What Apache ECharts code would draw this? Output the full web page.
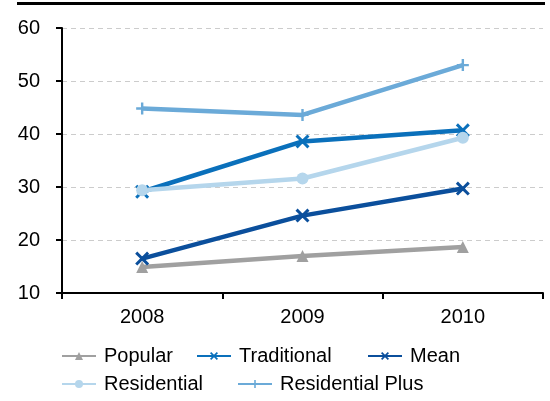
<!DOCTYPE html>
<html>
<head>
<meta charset="utf-8">
<script src="https://cdn.jsdelivr.net/npm/echarts@6/dist/echarts.min.js"></script>
<style>
  html, body { margin: 0; padding: 0; background: #fff; }
  .wrap { position: relative; width: 550px; height: 401px; }
  .topRule { position: absolute; left: 17px; top: 2px; width: 528px; height: 3px; background: #000; z-index: 2; }
  #chart { width: 550px; height: 401px; }
</style>
</head>
<body>
<div class="wrap">
  <div class="topRule"></div>
  <div id="chart"></div>
</div>
<script>
const years = ['2008', '2009', '2010']
const popular = [14.9, 17.0, 18.7]
const traditional = [29.1, 38.6, 40.7]
const mean = [16.5, 24.6, 29.7]
const residential = [29.4, 31.6, 39.3]
const residentialPlus = [44.8, 43.6, 53.0]
const yTicks = { min: 10, max: 60, interval: 10 }

const crossPath = 'path://M0,1.5L1.5,0L5,3.5L8.5,0L10,1.5L6.5,5L10,8.5L8.5,10L5,6.5L1.5,10L0,8.5L3.5,5Z'
const plusPath = 'path://M4,0H6V4H10V6H6V10H4V6H0V4H4Z'

const font = 'Arial, "Liberation Sans", sans-serif'

function line (name, data, color, symbol, size) {
  return {
    name: name,
    type: 'line',
    data: data,
    symbol: symbol,
    symbolSize: size,
    lineStyle: { color: color, width: 4.5 },
    itemStyle: { color: color },
    z: 3
  }
}

// one legend per entry so each sits where the original puts it
function legendAt (name, left, top) {
  return {
    data: [name],
    left: left,
    top: top,
    itemWidth: 34,
    itemHeight: 10,
    itemGap: 0,
    textStyle: { fontSize: 20, color: '#000', fontFamily: font, padding: [0, 0, 0, 3] }
  }
}

const myChart = echarts.init(document.getElementById('chart'))
myChart.setOption({
  animation: false,
  grid: { left: 62, right: 7, top: 28, bottom: 108, containLabel: false },
  legend: [
    legendAt('Popular', 56, 341),
    legendAt('Traditional', 191, 341),
    legendAt('Mean', 362, 341),
    legendAt('Residential', 56, 369),
    legendAt('Residential Plus', 232, 369)
  ],
  xAxis: {
    type: 'category',
    data: years,
    boundaryGap: true,
    axisLine: { lineStyle: { color: '#000', width: 2 } },
    axisTick: { show: true, length: 6, interval: 0, lineStyle: { color: '#000', width: 2 } },
    axisLabel: { color: '#000', fontSize: 20, fontFamily: font, margin: 14 },
    splitLine: { show: false }
  },
  yAxis: {
    type: 'value',
    min: yTicks.min,
    max: yTicks.max,
    interval: yTicks.interval,
    axisLine: { show: true, lineStyle: { color: '#000', width: 2 } },
    axisTick: { show: true, length: 6, lineStyle: { color: '#000', width: 2 } },
    axisLabel: { color: '#000', fontSize: 20, fontFamily: font, margin: 22 },
    splitLine: { show: true, lineStyle: { color: '#cccccc', width: 1, type: [5, 4] } }
  },
  series: [
    line('Popular', popular, '#a0a0a0', 'triangle', 12),
    line('Traditional', traditional, '#0a70bb', crossPath, 14),
    line('Mean', mean, '#0b4f9c', crossPath, 14),
    line('Residential', residential, '#b5d6ec', 'circle', 12),
    line('Residential Plus', residentialPlus, '#6baad8', plusPath, 12)
  ]
})
</script>
</body>
</html>
